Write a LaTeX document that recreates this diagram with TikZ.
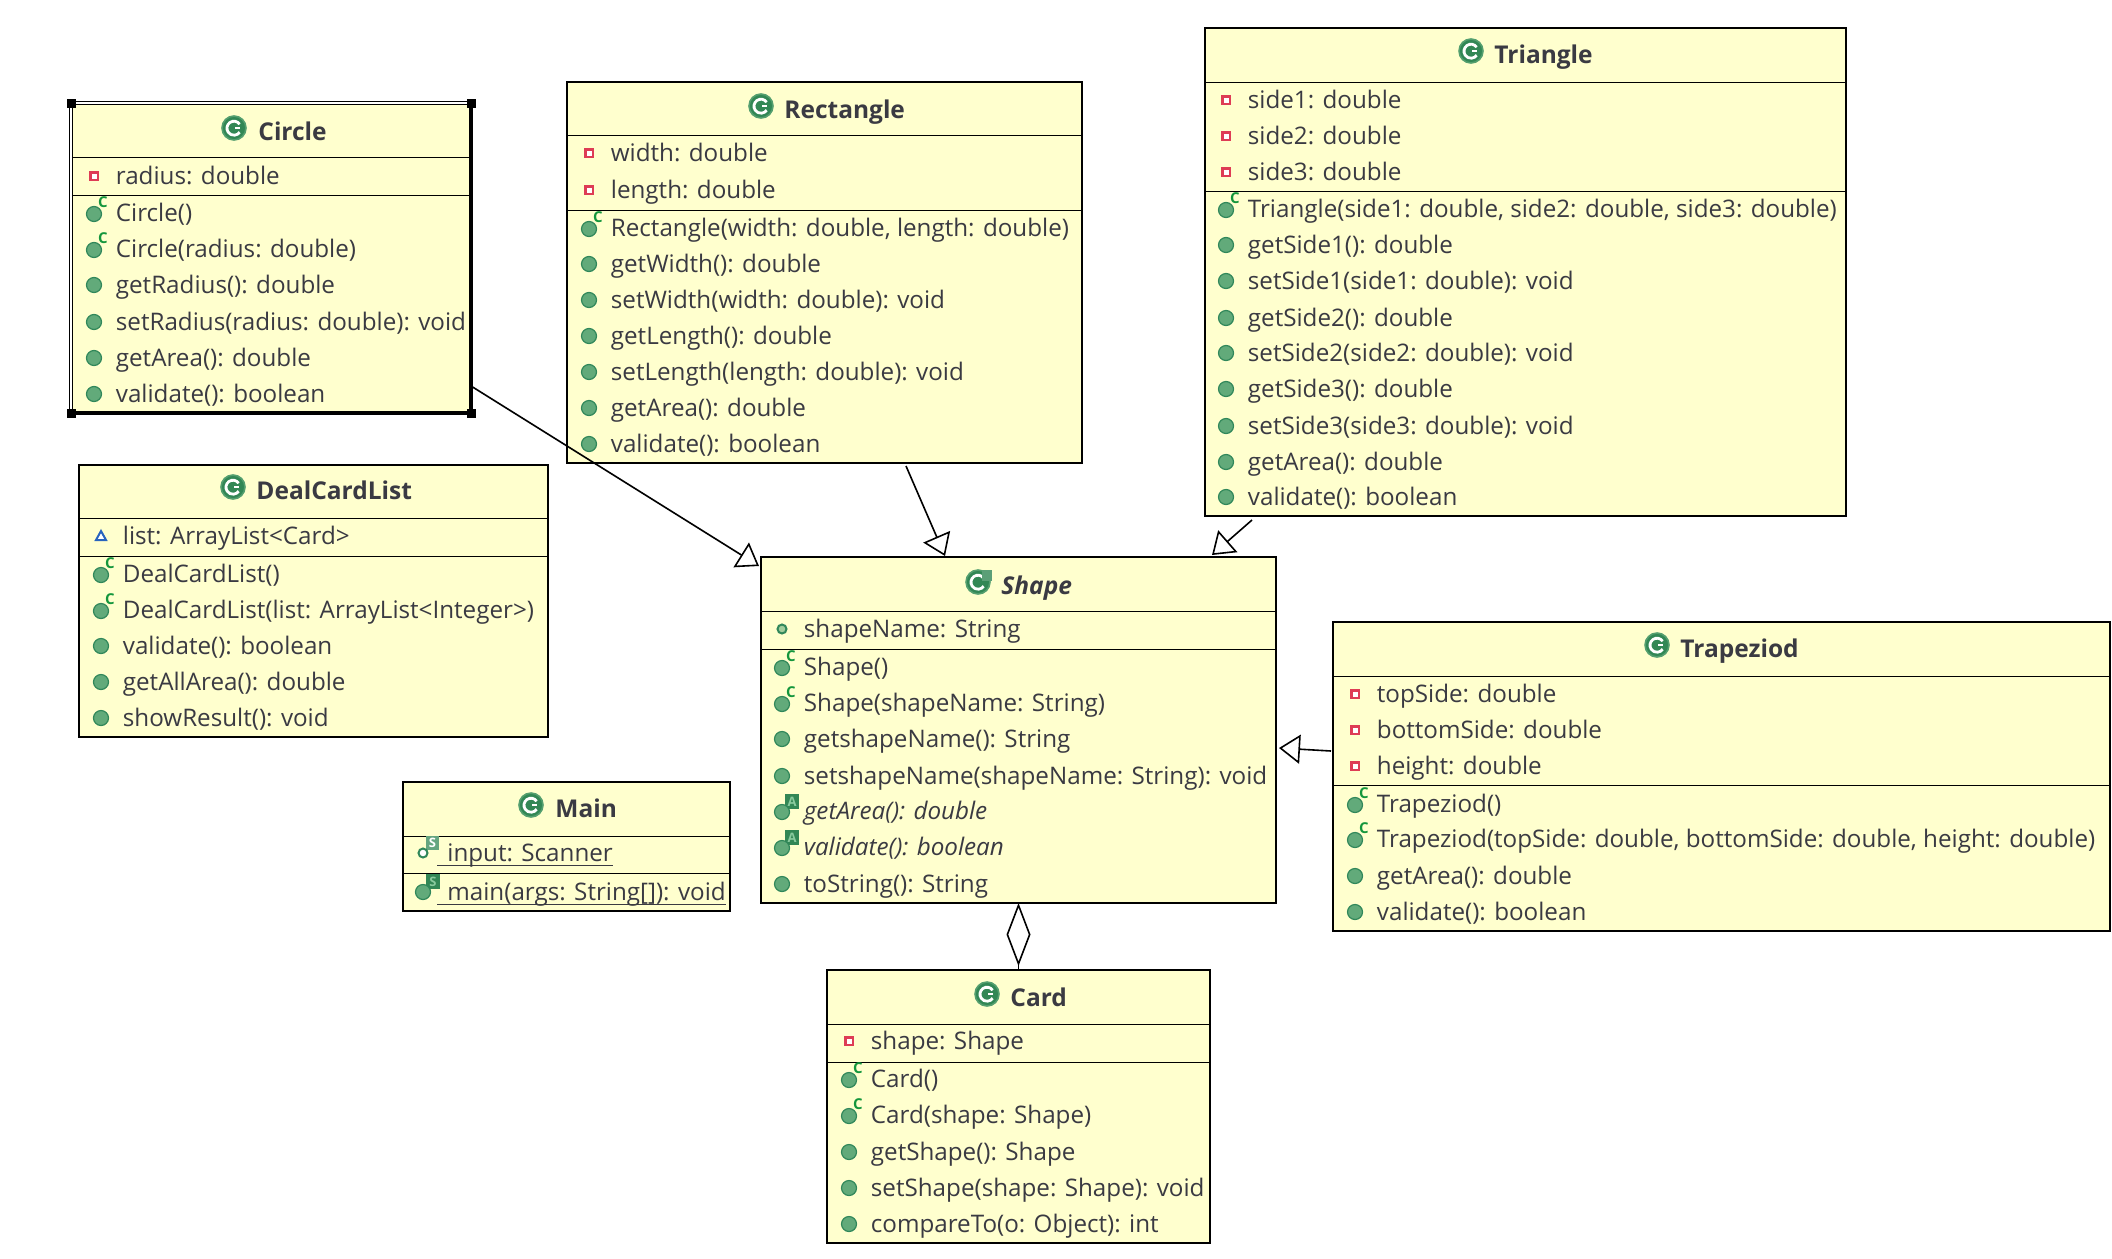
\documentclass[tikz,border=0pt]{standalone}
\usepackage{fontspec}
\setmainfont{Open Sans}
\usepackage{xcolor}
\usetikzlibrary{positioning,arrows.meta,calc}
\definecolor{fondoclase}{RGB}{255,255,206}
\definecolor{textoclase}{RGB}{58,58,66}
\definecolor{verdemetodo}{RGB}{98,170,122}
\definecolor{verdeborde}{RGB}{48,135,90}
\definecolor{verdeclase}{RGB}{50,135,85}
\definecolor{verdeletra}{RGB}{20,150,60}
\definecolor{rojocampo}{RGB}{222,60,85}
\definecolor{azulcampo}{RGB}{40,100,190}
\tikzset{
  caja/.style={draw=black, line width=0.6pt, fill=fondoclase, anchor=north west,
               inner sep=0pt, outer sep=0pt},
  separador/.style={draw=black, line width=0.5pt},
  sombra/.style={draw=black, line width=1.2pt},
  subrayado/.style={draw=textoclase, line width=0.45pt},
  titulo/.style={anchor=west, inner sep=0pt, text=textoclase, text height=11.5pt, text depth=2pt,
                 font=\fontsize{12.25pt}{14pt}\selectfont\bfseries},
  miembro/.style={anchor=west, inner sep=0pt, text=textoclase, text height=11.6pt, text depth=3pt,
                  font=\fontsize{12.1pt}{14pt}\selectfont},
  herencia/.style={-{Triangle[length=10.5pt, width=14.5pt, fill=white]}, line width=0.8pt},
  agregacion/.style={{Diamond[length=31.5pt, width=12pt, fill=white]}-, line width=0.8pt},
  campopriv/.pic={
    \fill[rojocampo] (-5,-5) rectangle (5,5);
    \fill[white] (-2.5,-2.5) rectangle (2.5,2.5);
  },
  campopaq/.pic={
    \draw[azulcampo, line width=1pt, fill=white] (0,-5) -- (5,4) -- (-5,4) -- cycle;
  },
  campoprot/.pic={
    \draw[verdeborde, line width=1pt, fill=fondoclase!40!verdemetodo] (0,0) circle[radius=4.5];
  },
  metodo/.pic={
    \draw[verdeborde, fill=verdemetodo, line width=0.6pt] (0,0) circle[radius=7.5];
  },
  ctor/.pic={
    \draw[verdeborde, fill=verdemetodo, line width=0.6pt] (0,1) circle[radius=7.5];
    \node[text=verdeletra, inner sep=0pt, font=\fontsize{7.5pt}{8pt}\selectfont\bfseries] (letrac) at (9,-11) {C};
  },
  abstracto/.pic={
    \draw[verdeborde, line width=1pt] (6,0) -- (7,-10);
    \fill[verdeclase] (3,-17) rectangle (17,-2);
    \node[text=verdeletra!50!white, inner sep=0pt, font=\fontsize{6.5pt}{7pt}\selectfont\bfseries] (letraa) at (10,-9.5) {A};
    \draw[verdeborde, fill=verdemetodo, line width=0.6pt] (0,1) circle[radius=7.5];
  },
  estaticom/.pic={
    \draw[verdeborde, line width=1pt] (6,0) -- (7,-10);
    \fill[verdeclase] (3,-18) rectangle (17,-3);
    \node[text=verdeletra!50!white, inner sep=0pt, font=\fontsize{6.5pt}{7pt}\selectfont\bfseries] (letras) at (10,-10.5) {S};
    \draw[verdeborde, fill=verdemetodo, line width=0.6pt] (0,0) circle[radius=7.5];
  },
  estaticoc/.pic={
    \draw[verdeborde, line width=1pt] (3,-2) -- (7,-10);
    \fill[verdeclase!75!white] (3,-17) rectangle (16,-3);
    \node[text=white, inner sep=0pt, font=\fontsize{6.5pt}{7pt}\selectfont\bfseries] (letrat) at (9.5,-10) {S};
    \draw[verdeborde, fill=white, line width=1pt] (0,0) circle[radius=4.5];
  },
  iconoclase/.pic={
    \draw[verdemetodo!70!verdeclase, fill=verdeclase, line width=0.8pt] (0,0) circle[radius=12];
    \draw[white, line width=1.4pt] (5.7,-3.8) arc[start angle=-35, end angle=-325, radius=7];
    \draw[white, line width=1.1pt] (1,0) -- (6,0);
  },
  iconoabstracta/.pic={
    \draw[verdemetodo!70!verdeclase, fill=verdeclase, line width=0.8pt] (0,0) circle[radius=12];
    \draw[white, line width=1.4pt] (5.7,-3.8) arc[start angle=-35, end angle=-325, radius=7];
    \fill[verdeclase!80!white] (4,-12) rectangle (14,-1);
  }
}
% caja con sus dos separadores: nombre, x, y, ancho, alto, sep1, sep2
\newcommand{\clase}[7]{
  \node[caja, minimum width=#4*0.5pt, minimum height=#5*0.5pt] (#1) at (#2,#3) {};
  \draw[separador] ([yshift=-#6*0.5pt]#1.north west) -- ([yshift=-#6*0.5pt]#1.north east);
  \draw[separador] ([yshift=-#7*0.5pt]#1.north west) -- ([yshift=-#7*0.5pt]#1.north east);
  \draw[sombra] (#1.north east) -- (#1.south east) -- (#1.south west);
}
% filas de una clase: nombre, x del icono, lista y/icono/texto
\newcommand{\miembros}[3]{
  \foreach \fy/\ico/\txt in {#3}{
    \pic at (#2,\fy) {\ico};
    \node[miembro] (#1-\fy) at (#2+21.5,\fy) {\txt};
  }
}
\begin{document}
\begin{tikzpicture}[x=0.5pt, y=-0.5pt]
  \useasboundingbox (0,0) rectangle (2112,1258);

  % Circle
  \clase{circulo}{71}{103}{400}{310}{54}{92}
  \draw[white, line width=0.5pt] (circulo.north west) -- (circulo.north east);
  \draw[double, double distance=0.7pt, line width=0.55pt] (circulo.south west) -- (circulo.north west) -- (circulo.north east);
  \draw[line width=1.9pt] (circulo.north east) -- (circulo.south east) -- (circulo.south west);
  \foreach \esq in {north west,north east,south west,south east}
    \fill ([xshift=-2.25pt,yshift=-2.25pt]circulo.\esq) rectangle ++(4.5pt,4.5pt);
  \pic at (234,128) {iconoclase};
  \node[titulo] (circulotit) at (258,131) {Circle};
  \miembros{circulo}{94}{176/campopriv/{radius: double},
    213/ctor/{Circle()}, 249/ctor/{Circle(radius: double)},
    285/metodo/{getRadius(): double}, 322/metodo/{setRadius(radius: double): void},
    358/metodo/{getArea(): double}, 394/metodo/{validate(): boolean}}

  % Rectangle
  \clase{rectangulo}{567}{82}{515}{381}{53}{128}
  \pic at (761,106) {iconoclase};
  \node[titulo] (rectangulotit) at (784,109) {Rectangle};
  \miembros{rectangulo}{589}{153/campopriv/{width: double}, 190/campopriv/{length: double},
    228/ctor/{Rectangle(width: double, length: double)},
    264/metodo/{getWidth(): double}, 300/metodo/{setWidth(width: double): void},
    336/metodo/{getLength(): double}, 372/metodo/{setLength(length: double): void},
    408/metodo/{getArea(): double}, 444/metodo/{validate(): boolean}}

  % Triangle
  \clase{triangulo}{1205}{28}{641}{488}{54}{163}
  \pic at (1471,51) {iconoclase};
  \node[titulo] (triangulotit) at (1494,54) {Triangle};
  \miembros{triangulo}{1226}{100/campopriv/{side1: double}, 136/campopriv/{side2: double},
    172/campopriv/{side3: double},
    209/ctor/{Triangle(side1: double, side2: double, side3: double)},
    245/metodo/{getSide1(): double}, 281/metodo/{setSide1(side1: double): void},
    318/metodo/{getSide2(): double}, 353/metodo/{setSide2(side2: double): void},
    389/metodo/{getSide3(): double}, 426/metodo/{setSide3(side3: double): void},
    462/metodo/{getArea(): double}, 497/metodo/{validate(): boolean}}

  % DealCardList
  \clase{reparto}{79}{465}{469}{272}{53}{91}
  \pic at (233,487) {iconoclase};
  \node[titulo] (repartotit) at (256,490) {DealCardList};
  \miembros{reparto}{101}{536/campopaq/{list: ArrayList<Card>},
    574/ctor/{DealCardList()}, 610/ctor/{DealCardList(list: ArrayList<Integer>)},
    646/metodo/{validate(): boolean}, 682/metodo/{getAllArea(): double},
    718/metodo/{showResult(): void}}

  % Main
  \clase{principal}{403}{782}{327}{129}{54}{91}
  \pic at (531,805) {iconoclase};
  \node[titulo] (principaltit) at (555,808) {Main};
  \pic at (423,853) {estaticoc};
  \node[miembro] (principal-853) at (437,853) {\hspace{5pt}input: Scanner};
  \draw[subrayado] ([yshift=1.2pt]principal-853.south west) -- ([yshift=1.2pt]principal-853.south east);
  \pic at (423,892) {estaticom};
  \node[miembro] (principal-892) at (437,892) {\hspace{5pt}main(args: String[]): void};
  \draw[subrayado] ([yshift=1.2pt]principal-892.south west) -- ([yshift=1.2pt]principal-892.south east);

  % Shape
  \clase{forma}{761}{557}{515}{346}{54}{92}
  \pic at (978,582) {iconoabstracta};
  \node[titulo, font=\fontsize{12.25pt}{14pt}\selectfont\bfseries\itshape] (formatit) at (1001,585) {Shape};
  \miembros{forma}{782}{629/campoprot/{shapeName: String},
    667/ctor/{Shape()}, 703/ctor/{Shape(shapeName: String)},
    739/metodo/{getshapeName(): String}, 776/metodo/{setshapeName(shapeName: String): void},
    811/abstracto/{\textit{getArea(): double}}, 847/abstracto/{\textit{validate(): boolean}},
    884/metodo/{toString(): String}}

  % Trapeziod
  \clase{trapecio}{1333}{622}{777}{309}{54}{163}
  \pic at (1657,645) {iconoclase};
  \node[titulo] (trapeciotit) at (1680,648) {Trapeziod};
  \miembros{trapecio}{1355}{694/campopriv/{topSide: double}, 730/campopriv/{bottomSide: double},
    766/campopriv/{height: double},
    804/ctor/{Trapeziod()},
    839/ctor/{Trapeziod(topSide: double, bottomSide: double, height: double)},
    876/metodo/{getArea(): double}, 912/metodo/{validate(): boolean}}

  % Card
  \clase{carta}{827}{970}{383}{273}{54}{92}
  \pic at (987,994) {iconoclase};
  \node[titulo] (cartatit) at (1010,997) {Card};
  \miembros{carta}{849}{1041/campopriv/{shape: Shape},
    1079/ctor/{Card()}, 1115/ctor/{Card(shape: Shape)},
    1152/metodo/{getShape(): Shape}, 1188/metodo/{setShape(shape: Shape): void},
    1224/metodo/{compareTo(o: Object): int}}

  % relaciones
  \draw[herencia] ([yshift=13.5pt]circulo.south east) -- ([xshift=-1pt,yshift=-4.5pt]forma.north west);
  \draw[herencia] ([xshift=169.5pt,yshift=-1.5pt]rectangulo.south west) -- ([xshift=92pt,yshift=0.5pt]forma.north west);
  \draw[herencia] ([xshift=23.5pt,yshift=-2pt]triangulo.south west) -- ([xshift=-32pt,yshift=1pt]forma.north east);
  \draw[herencia] ([xshift=-1pt,yshift=12.75pt]trapecio.west) -- ([xshift=1.5pt,yshift=-9pt]forma.east);
  \draw[agregacion] (forma.south) -- (carta.north);
\end{tikzpicture}
\end{document}
